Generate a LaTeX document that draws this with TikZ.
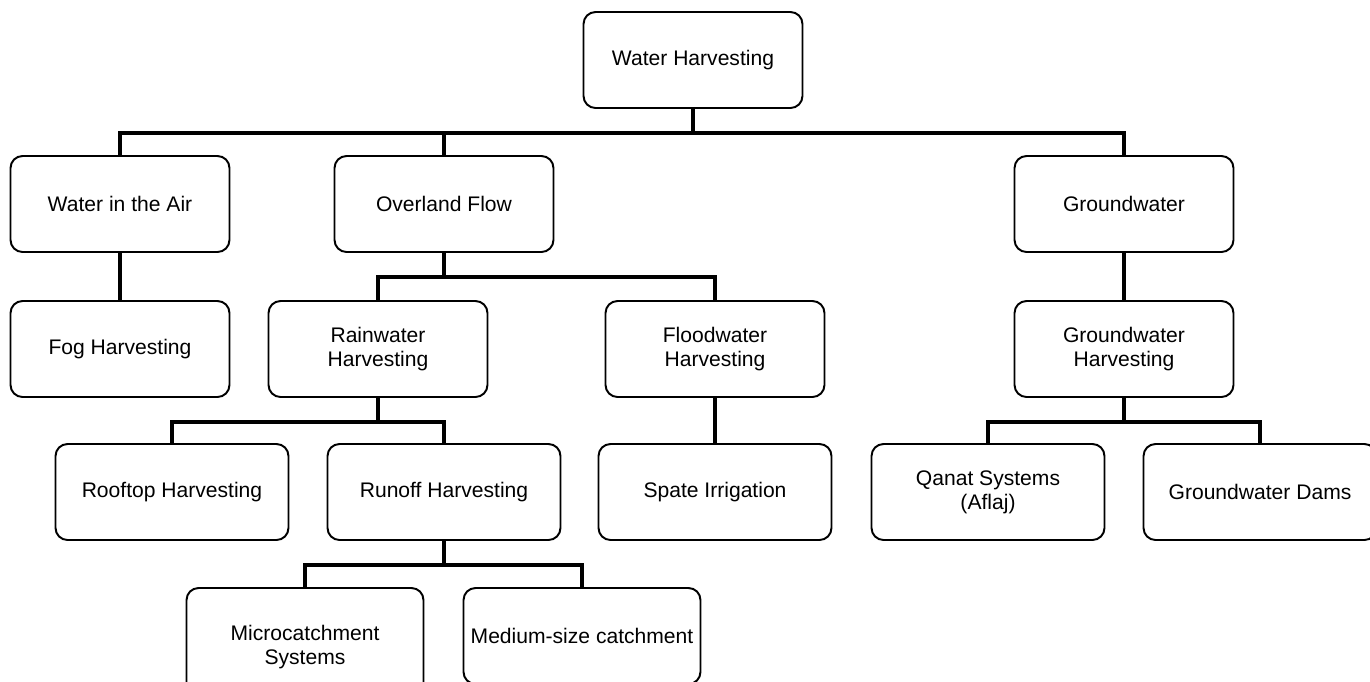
\documentclass[tikz,border=0pt]{standalone}
\usepackage{fontspec}
\setmainfont{Liberation Sans}
\usepackage{tikz}

\begin{document}
\begin{tikzpicture}[x=0.02cm, y=-0.02cm,
    bnode/.style={draw, rounded corners=0.24cm, line width=1.1pt, minimum width=4.38cm, minimum height=1.92cm, align=center, inner sep=2pt, font=\fontsize{12}{13.8}\selectfont},
    wnode/.style={bnode, minimum width=4.66cm},
    xnode/.style={bnode, minimum width=4.74cm},
    link/.style={line width=2pt}]
    \clip (0,0) rectangle (1370,681);

    \node[bnode] (wh) at (693,60) {Water Harvesting};
    \node[bnode] (air) at (120,204) {Water in the Air};
    \node[bnode] (over) at (444,204) {Overland Flow};
    \node[bnode] (gw) at (1124,204) {Groundwater};
    \node[bnode] (fog) at (120,349) {Fog Harvesting};
    \node[bnode] (rain) at (378,349) {Rainwater\\Harvesting};
    \node[bnode] (flood) at (715,349) {Floodwater\\Harvesting};
    \node[bnode] (gwh) at (1124,349) {Groundwater\\Harvesting};
    \node[wnode] (roof) at (172,492) {Rooftop Harvesting};
    \node[wnode] (runoff) at (444,492) {Runoff Harvesting};
    \node[wnode] (spate) at (715,492) {Spate Irrigation};
    \node[wnode] (qanat) at (988,492) {Qanat Systems\\(Aflaj)};
    \node[wnode] (dams) at (1260,492) {Groundwater Dams};
    \node[xnode, minimum height=2.36cm] (micro) at (305,647) {Microcatchment\\Systems};
    \node[xnode] (medium) at (582,636) {Medium-size catchment};

    \draw[link] (wh.south) -- ++(0,24) -| (air.north);
    \draw[link] (wh.south) -- ++(0,24) -| (over.north);
    \draw[link] (wh.south) -- ++(0,24) -| (gw.north);
    \draw[link] (air) -- (fog);
    \draw[link] (over.south) -- ++(0,24) -| (rain.north);
    \draw[link] (over.south) -- ++(0,24) -| (flood.north);
    \draw[link] (gw) -- (gwh);
    \draw[link] (rain.south) -- ++(0,24) -| (roof.north);
    \draw[link] (rain.south) -- ++(0,24) -| (runoff.north);
    \draw[link] (flood) -- (spate);
    \draw[link] (gwh.south) -- ++(0,24) -| (qanat.north);
    \draw[link] (gwh.south) -- ++(0,24) -| (dams.north);
    \draw[link] (runoff.south) -- ++(0,24) -| (micro.north);
    \draw[link] (runoff.south) -- ++(0,24) -| (medium.north);
\end{tikzpicture}
\end{document}
